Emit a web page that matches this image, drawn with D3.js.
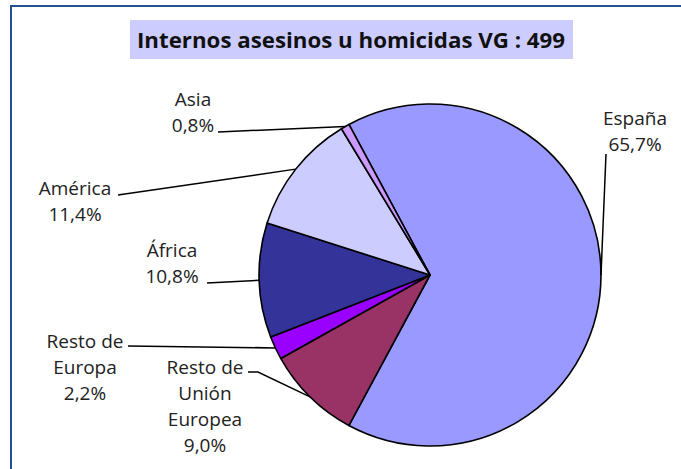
<!DOCTYPE html>
<html>
<head>
<meta charset="utf-8">
<script src="https://cdn.jsdelivr.net/npm/d3@7"></script>
<style>
  body { margin: 0; background: #fff; }
  text { font-family: "Open Sans", "Noto Sans", sans-serif; fill: #222; }
</style>
</head>
<body>
<script>
// regions, counts (total 499)
var regions = ["España", "Resto de Unión Europea", "Resto de Europa", "África", "América", "Asia"];
var counts = [328, 45, 11, 54, 57, 4];
var colors = ["#9999ff", "#993366", "#9900ff", "#333399", "#ccccff", "#cc99ff"];
// how each label is broken into lines
var labelLines = [["España"], ["Resto de", "Unión", "Europea"], ["Resto de", "Europa"], ["África"], ["América"], ["Asia"]];

var w = 681, h = 469;
var cx = 430, cy = 275, r = 171;
var startDeg = -28.3;

var total = d3.sum(counts);
var pct = function (v) { return d3.format(".1f")(v / total * 100).replace(".", ",") + "%"; };

var svg = d3.select("body").append("svg")
  .attr("width", w)
  .attr("height", h);

// frame (only top and left edges show)
svg.append("path")
  .attr("d", "M11," + h + "L11,6L" + w + ",6")
  .attr("fill", "none")
  .attr("stroke", "#24528f")
  .attr("stroke-width", 2);

// title
svg.append("rect")
  .attr("x", 130).attr("y", 20)
  .attr("width", 443).attr("height", 39)
  .attr("fill", "#ccccff");
svg.append("text")
  .attr("x", 137).attr("y", 48)
  .attr("textLength", 428)
  .attr("lengthAdjust", "spacingAndGlyphs")
  .style("font-weight", "bold")
  .style("font-size", "22px")
  .style("fill", "#111")
  .text("Internos asesinos u homicidas VG : " + total);

var pie = d3.pie().sort(null)
  .startAngle(startDeg * Math.PI / 180)
  .endAngle(startDeg * Math.PI / 180 + 2 * Math.PI);
var arcs = pie(counts);
var arc = d3.arc().innerRadius(0).outerRadius(r);

var g = svg.append("g").attr("transform", "translate(" + cx + "," + cy + ")");
g.selectAll("path.slice")
  .data(arcs)
  .enter().append("path")
  .attr("class", "slice")
  .attr("d", arc)
  .attr("fill", function (d, i) { return colors[i]; })
  .attr("stroke", "#000")
  .attr("stroke-width", 1.6)
  .attr("stroke-linejoin", "round");

// label placement: centre x, first baseline, leader start (and optional elbow)
var labelPos = [
  { x: 635, y: 125, lead: [[606, 154]] },
  { x: 205, y: 374, lead: [[248, 372], [258, 372]] },
  { x: 85, y: 348, lead: [[128, 346]] },
  { x: 172, y: 257, lead: [[207, 283]] },
  { x: 75, y: 195, lead: [[118, 195]] },
  { x: 193, y: 106, lead: [[218, 132]] }
];
var lineH = 26;

arcs.forEach(function (d, i) {
  var p = labelPos[i];
  var mid = (d.startAngle + d.endAngle) / 2;
  var ex = cx + r * Math.sin(mid), ey = cy - r * Math.cos(mid);
  var pts = p.lead.concat([[ex, ey]]);
  svg.append("path")
    .attr("d", d3.line()(pts))
    .attr("fill", "none")
    .attr("stroke", "#000")
    .attr("stroke-width", 1.5);

  var lines = labelLines[i].concat([pct(counts[i])]);
  var t = svg.append("text")
    .attr("text-anchor", "middle")
    .style("font-size", "19px");
  lines.forEach(function (s, k) {
    t.append("tspan")
      .attr("x", p.x)
      .attr("y", p.y + k * lineH)
      .text(s);
  });
});
</script>
</body>
</html>
